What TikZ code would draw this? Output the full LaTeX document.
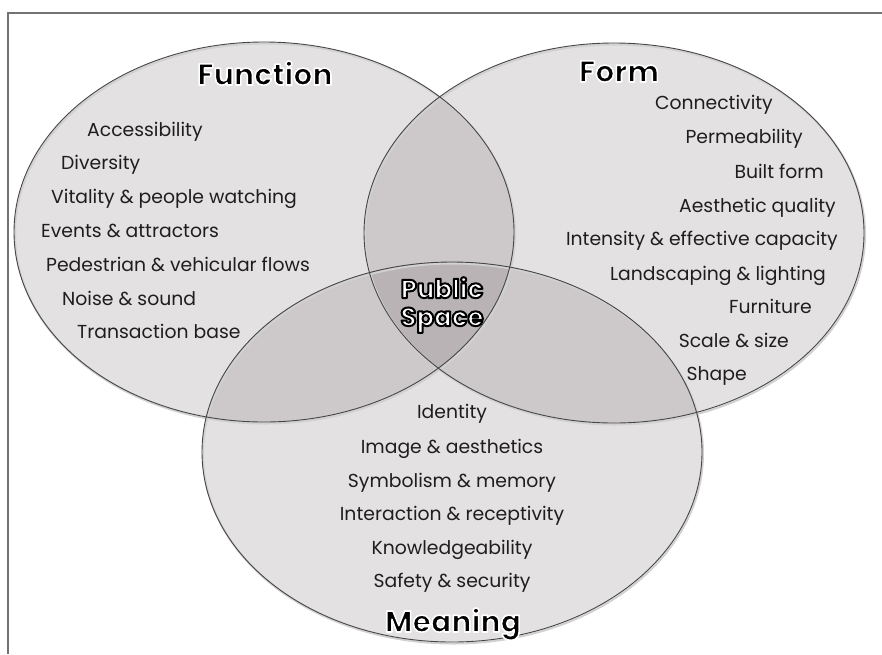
\documentclass[tikz,border=0pt]{standalone}
\usepackage{fontspec}
\setmainfont{Poppins}
\usetikzlibrary{shapes.geometric}

\definecolor{discfill}{RGB}{75,60,65}
\definecolor{rimline}{RGB}{70,70,70}
\definecolor{framegray}{RGB}{115,115,115}
\definecolor{itemtext}{RGB}{30,30,30}

% glyphs filled and stroked (stroke colour, stroke width, text)
\newcommand\rimtext[3]{\special{pdf:literal direct #1 RG #2 w 1 j 2 Tr}#3\special{pdf:literal direct 0 Tr}}

\tikzset{
  disc/.style={ellipse, minimum width=500pt, minimum height=380pt, inner sep=0pt, fill=discfill, fill opacity=0.15},
  rim/.style={draw=rimline, line width=0.9pt},
  rimshade/.style={draw=black!18, line width=2pt},
  item/.style={font=\fontsize{18.8}{18.8}\selectfont, text=itemtext, inner sep=0pt},
  title/.style={font=\bfseries\fontsize{30}{30}\selectfont, text=black, inner sep=0pt, anchor=base},
  core/.style={font=\bfseries\fontsize{26}{26}\selectfont, text=white, inner sep=0pt, anchor=base},
}

\begin{document}
\begin{tikzpicture}[x=1pt,y=-1pt]
\useasboundingbox (0,0) rectangle (882,654);
\fill[white] (0,0) rectangle (882,654);
\draw[framegray, line width=1.4pt] (8,654) -- (8,13) -- (882,13);

% the three sets
\node[disc] (function) at (264,232) {};
\node[disc] (form) at (614,233) {};
\node[disc] (meaning) at (452,452) {};
\foreach \s in {function,form,meaning}
  \draw[rimshade] ([shift={(1pt,-1.5pt)}]\s.center) ellipse [x radius=250, y radius=190];
\foreach \s in {function,form,meaning}
  \draw[rim] (\s.center) ellipse [x radius=250, y radius=190];

% items
\foreach \t/\x/\y [count=\i] in {Accessibility/87/136, Diversity/61/169, Vitality \& people watching/51/203,
    Events \& attractors/41/237, Pedestrian \& vehicular flows/46/271, Noise \& sound/62/305, Transaction base/77/338}
  \node[item, anchor=base west] (fun-\i) at (\x,\y) {\t};
\foreach \t/\x/\y [count=\i] in {Connectivity/773/109, Permeability/803/143, Built form/824/178,
    Aesthetic quality/836/212, Intensity \& effective capacity/838/245, Landscaping \& lighting/826/280,
    Furniture/812/313, Scale \& size/789/347, Shape/747/380}
  \node[item, anchor=base east] (frm-\i) at (\x,\y) {\t};
\foreach \t/\y [count=\i] in {Identity/418, Image \& aesthetics/453, Symbolism \& memory/487,
    Interaction \& receptivity/520, Knowledgeability/554, Safety \& security/587}
  \node[item, anchor=base] (mea-\i) at (452,\y) {\t};

% titles
\foreach \t/\x/\y in {Function/265/85, Form/619/82, Meaning/453/632}
  \node[title] (\t-title) at (\x,\y) {\rimtext{1 1 1}{1.6}{\t}};

% centre
\node[core] (public) at (442,298) {\rimtext{0 0 0}{2}{Public}};
\node[core] (space) at (442,326) {\rimtext{0 0 0}{2}{Space}};
\end{tikzpicture}
\end{document}
